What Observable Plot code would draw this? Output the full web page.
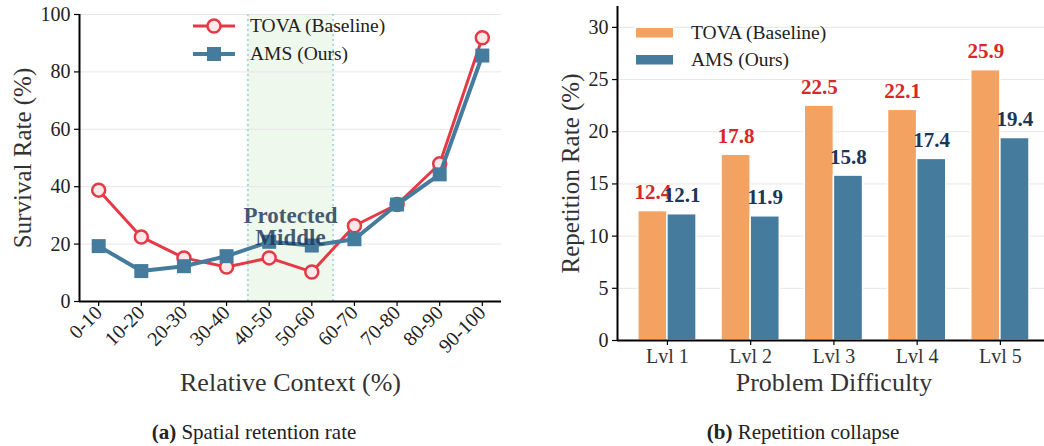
<!DOCTYPE html>
<html><head><meta charset="utf-8">
<script src="https://cdn.jsdelivr.net/npm/d3@7"></script>
<script src="https://cdn.jsdelivr.net/npm/@observablehq/plot@0.6"></script>
<style>
body{margin:0;background:#fff;font-family:"Liberation Serif","Times New Roman",serif;}
#wrap{position:relative;width:1044px;height:446px;overflow:hidden;background:#fff;}
.panel{position:absolute;top:0;}
.lg{position:absolute;font-size:19.5px;line-height:24px;color:#222;white-space:nowrap;}
.sw{position:absolute;}
.caption{position:absolute;font-size:21px;line-height:24px;color:#222;white-space:nowrap;transform:translateX(-50%);}
</style></head>
<body><div id="wrap"></div>
<script>
// ---------- data ----------
const contextBins = ["0-10","10-20","20-30","30-40","40-50","50-60","60-70","70-80","80-90","90-100"];
const tovaSurvival = [38.8, 22.5, 15.2, 12.0, 15.2, 10.3, 26.4, 33.8, 48.0, 91.9];
const amsSurvival  = [19.3, 10.6, 12.3, 15.8, 20.8, 19.5, 21.7, 33.8, 44.3, 85.7];
const survivalTicks = [0, 20, 40, 60, 80, 100];
const protectedBins = ["40-50", "50-60"];
const protectedLabel = "Protected\nMiddle";

const levels = ["Lvl 1","Lvl 2","Lvl 3","Lvl 4","Lvl 5"];
const tovaRepetition = [12.4, 17.8, 22.5, 22.1, 25.9];
const amsRepetition  = [12.1, 11.9, 15.8, 17.4, 19.4];
const repetitionTicks = [0, 5, 10, 15, 20, 25, 30];

const seriesNames = ["TOVA (Baseline)", "AMS (Ours)"];
const captions = [["(a)", " Spatial retention rate"], ["(b)", " Repetition collapse"]];

// ---------- styles ----------
const serif = "'Liberation Serif','Times New Roman',serif";
const RED = "#e63946", BLUE = "#457b9d", ORANGE = "#f4a261", NAVY = "#1d3557";
const wrap = document.getElementById("wrap");

// ---------- left panel ----------
const lineData = contextBins.map((bin, i) => ({i, bin, tova: tovaSurvival[i], ams: amsSurvival[i]}));
const pad = 0.45;
const pStart = contextBins.indexOf(protectedBins[0]) - 0.5;
const pEnd = contextBins.indexOf(protectedBins[1]) + 0.5;

const left = Plot.plot({
  width: 522, height: 405,
  marginLeft: 79, marginRight: 21, marginTop: 14, marginBottom: 104,
  style: {fontFamily: serif, background: "transparent", overflow: "visible"},
  x: {type: "linear", domain: [-pad, contextBins.length - 1 + pad]},
  y: {domain: [0, 100]},
  marks: [
    Plot.rect([{a: pStart, b: pEnd}], {x1: "a", x2: "b", fill: "#eef8ec"}),
    Plot.gridY(survivalTicks.filter(t => t > 0), {stroke: "#e6e6e6", strokeOpacity: 1, strokeWidth: 1}),
    Plot.ruleX([pStart, pEnd], {stroke: "#a8dadc", strokeWidth: 2, strokeDasharray: "2,3"}),
    Plot.axisY({ticks: survivalTicks, tickSize: 5, tickPadding: 4, fontSize: 20, fill: "#222", stroke: "black", strokeWidth: 1.2, label: null}),
    Plot.axisX({ticks: d3.range(contextBins.length), tickFormat: i => contextBins[i], tickRotate: -45, tickSize: 5, tickPadding: 3, fontSize: 20, fill: "#222", stroke: "black", strokeWidth: 1.2, label: null}),
    Plot.ruleX([-pad], {stroke: "black", strokeWidth: 2}),
    Plot.ruleY([0], {stroke: "black", strokeWidth: 2}),
    Plot.line(lineData, {x: "i", y: "tova", stroke: RED, strokeWidth: 3}),
    Plot.dot(lineData, {x: "i", y: "tova", r: 6.5, fill: "#fde8ea", stroke: RED, strokeWidth: 2.5}),
    Plot.line(lineData, {x: "i", y: "ams", stroke: BLUE, strokeWidth: 4}),
    Plot.dot(lineData, {x: "i", y: "ams", symbol: "square", r: 7.9, fill: BLUE}),
    Plot.text([protectedLabel], {x: (pStart + pEnd) / 2, y: 26, text: d => d, fontSize: 23, fontWeight: "bold", fill: NAVY, fillOpacity: 0.82, lineHeight: 0.97, lineAnchor: "middle"}),
    Plot.text(["Survival Rate (%)"], {frameAnchor: "left", textAnchor: "middle", lineAnchor: "middle", text: d => d, rotate: -90, dx: -57, fontSize: 25, fill: "#333"}),
    Plot.text(["Relative Context (%)"], {frameAnchor: "bottom", textAnchor: "middle", text: d => d, dy: 81, fontSize: 26, fill: "#333", lineAnchor: "middle"})
  ]
});
left.classList.add("panel");
left.style.left = "0px";
wrap.appendChild(left);

// ---------- right panel ----------
const barData = levels.map((lvl, i) => ({i, lvl, tova: tovaRepetition[i], ams: amsRepetition[i]}));
const barW = 0.35;
const right = Plot.plot({
  width: 522, height: 405,
  marginLeft: 95, marginRight: 0, marginTop: 6, marginBottom: 65,
  style: {fontFamily: serif, background: "transparent", overflow: "visible"},
  x: {type: "linear", domain: [-0.6, 4.53]},
  y: {domain: [0, 32]},
  marks: [
    Plot.gridY(repetitionTicks.filter(t => t > 0), {stroke: "#e6e6e6", strokeOpacity: 1, strokeWidth: 1}),
    Plot.rect(barData, {x1: d => d.i - barW, x2: d => d.i, y1: 0, y2: "tova", fill: ORANGE, stroke: "white", strokeWidth: 1.5}),
    Plot.rect(barData, {x1: d => d.i, x2: d => d.i + barW, y1: 0, y2: "ams", fill: BLUE, stroke: "white", strokeWidth: 1.5}),
    Plot.text(barData, {x: d => d.i - barW / 2, y: "tova", text: d => d.tova.toFixed(1), dy: -12, lineAnchor: "bottom", fontSize: 21, fontWeight: "bold", fill: "#d62828"}),
    Plot.text(barData, {x: d => d.i + barW / 2, y: "ams", text: d => d.ams.toFixed(1), dy: -12, lineAnchor: "bottom", fontSize: 21, fontWeight: "bold", fill: NAVY}),
    Plot.axisY({ticks: repetitionTicks, tickSize: 5, tickPadding: 4, fontSize: 20, fill: "#222", stroke: "black", strokeWidth: 1.2, label: null}),
    Plot.axisX({ticks: d3.range(levels.length), tickFormat: i => levels[i], tickSize: 5, tickPadding: 3, fontSize: 20, fill: "#333", stroke: "black", strokeWidth: 1.2, label: null}),
    Plot.ruleX([-0.6], {stroke: "black", strokeWidth: 2}),
    Plot.ruleY([0], {stroke: "black", strokeWidth: 2}),
    Plot.text(["Repetition Rate (%)"], {frameAnchor: "left", textAnchor: "middle", lineAnchor: "middle", text: d => d, rotate: -90, dx: -47, fontSize: 25, fill: "#333"}),
    Plot.text(["Problem Difficulty"], {frameAnchor: "bottom", textAnchor: "middle", text: d => d, dy: 42, dx: 3, fontSize: 26, fill: "#333", lineAnchor: "middle"})
  ]
});
right.classList.add("panel");
right.style.left = "522px";
wrap.appendChild(right);

// ---------- legends ----------
function add(html) { wrap.insertAdjacentHTML("beforeend", html); }
// left legend
add(`<svg class="sw" style="left:190px;top:16px" width="50" height="20"><line x1="3" y1="10" x2="45" y2="10" stroke="${RED}" stroke-width="3"/><circle cx="24" cy="10" r="6.5" fill="#fde8ea" stroke="${RED}" stroke-width="2.5"/></svg>`);
add(`<div class="lg" style="left:250px;top:14px">${seriesNames[0]}</div>`);
add(`<svg class="sw" style="left:190px;top:44px" width="50" height="20"><line x1="3" y1="10" x2="45" y2="10" stroke="${BLUE}" stroke-width="4"/><rect x="17" y="3" width="14" height="14" fill="${BLUE}"/></svg>`);
add(`<div class="lg" style="left:250px;top:42px">${seriesNames[1]}</div>`);
// right legend
add(`<svg class="sw" style="left:635px;top:27px" width="40" height="12"><rect x="0.5" y="0.5" width="38" height="10.5" fill="${ORANGE}" stroke="white"/></svg>`);
add(`<div class="lg" style="left:691px;top:21px">${seriesNames[0]}</div>`);
add(`<svg class="sw" style="left:635px;top:54px" width="40" height="12"><rect x="0.5" y="0.5" width="38" height="10.5" fill="${BLUE}" stroke="white"/></svg>`);
add(`<div class="lg" style="left:691px;top:48px">${seriesNames[1]}</div>`);

// ---------- captions ----------
add(`<div class="caption" style="left:254px;top:420px"><b>${captions[0][0]}</b>${captions[0][1]}</div>`);
add(`<div class="caption" style="left:803px;top:420px"><b>${captions[1][0]}</b>${captions[1][1]}</div>`);
</script>
</body></html>
